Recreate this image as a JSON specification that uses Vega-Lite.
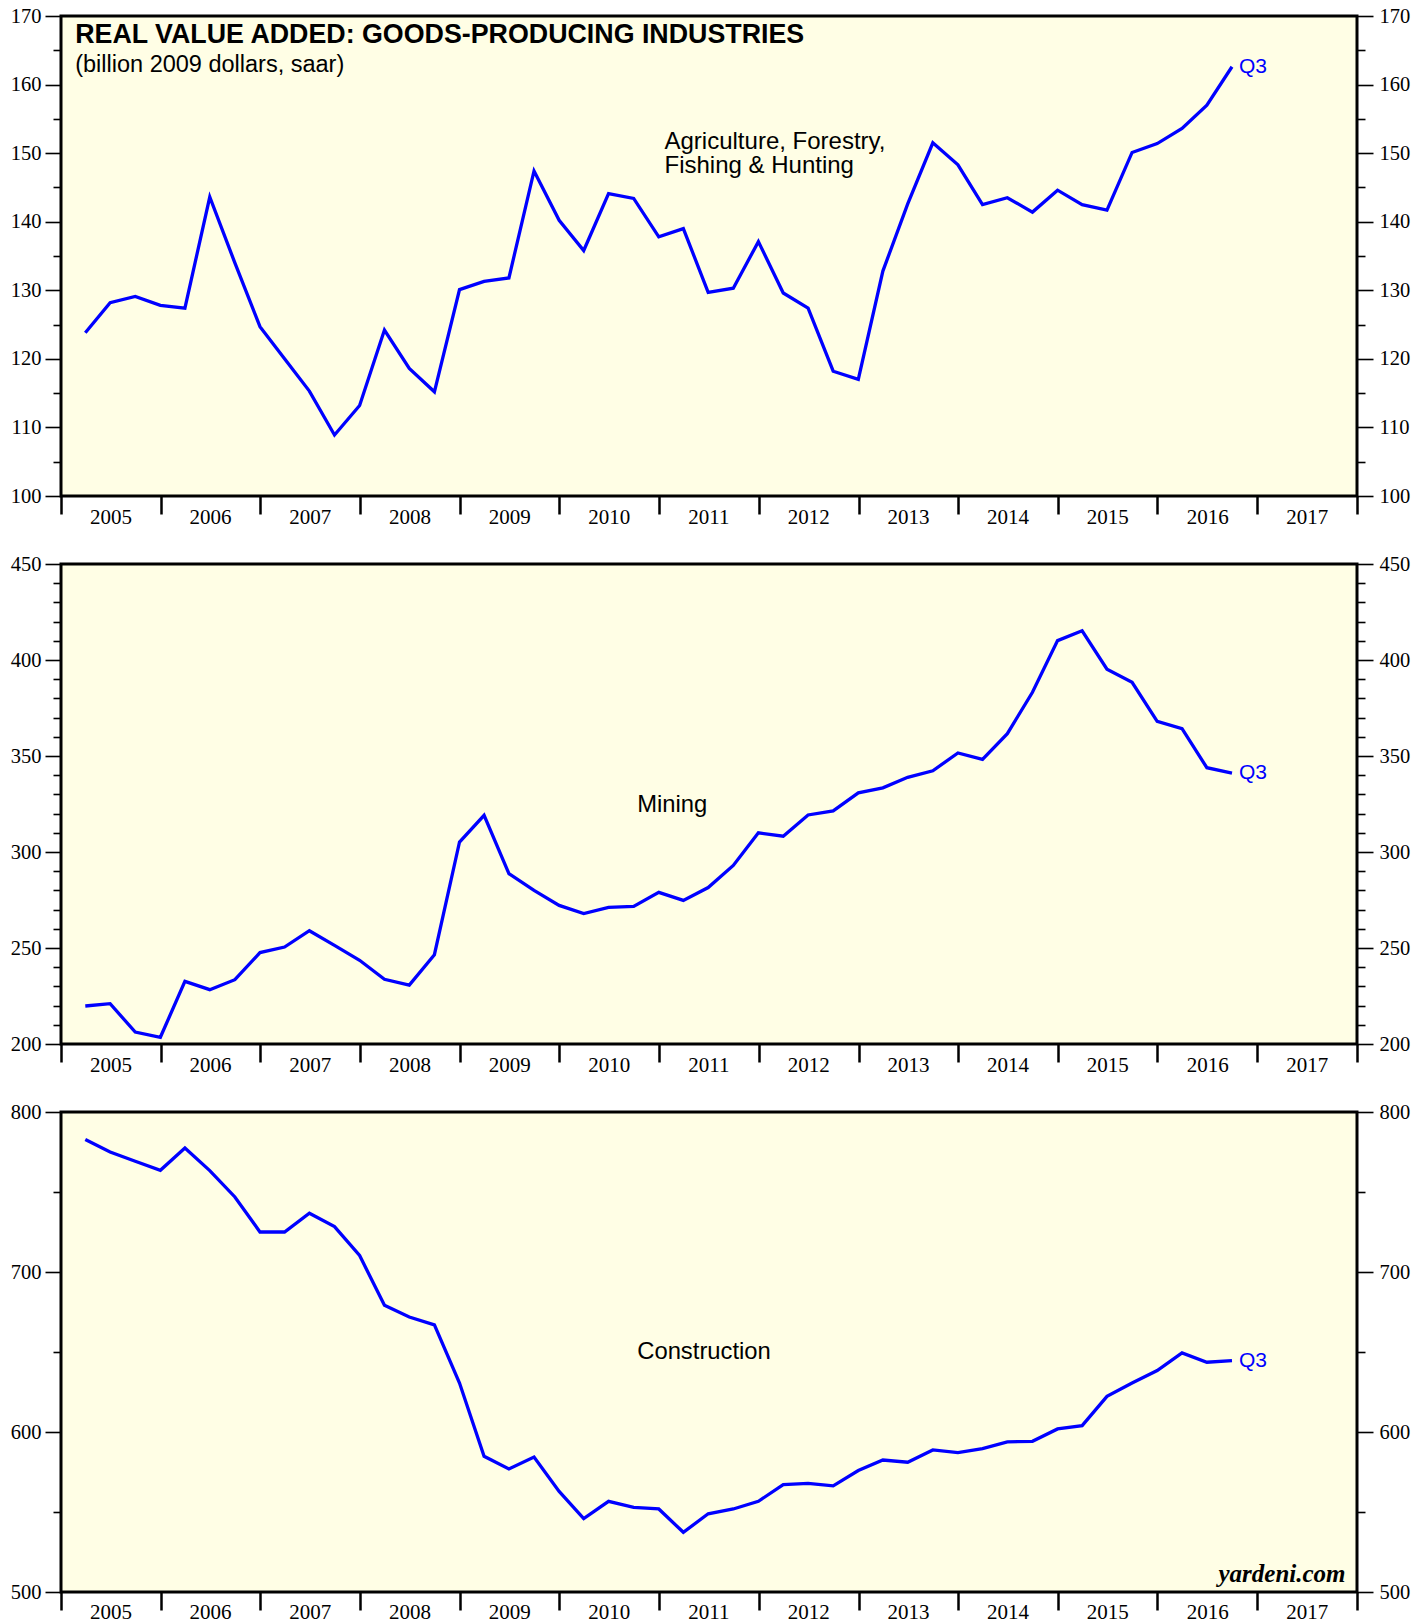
{
  "$schema": "https://vega.github.io/schema/vega-lite/v6.json",
  "background": "white",
  "padding": {"left": 8, "top": 4, "right": 0, "bottom": 0},
  "bounds": "flush",
  "spacing": 68,
  "config": {
    "view": {"stroke": "black", "strokeWidth": 3, "fill": "#fffee5"},
    "axis": {"labelFont": "Liberation Serif", "labelFontSize": 21, "labelColor": "black", "tickColor": "black", "domain": false, "grid": false, "labelOverlap": false, "labelFlush": false, "labelBound": false},
    "text": {"font": "Liberation Sans", "color": "black"}
  },
  "datasets": {
    "gva": [
      {"date": "2005-03-31", "agriculture": 123.8, "mining": 219.8, "construction": 782.8},
      {"date": "2005-06-30", "agriculture": 128.2, "mining": 221.0, "construction": 775.0},
      {"date": "2005-09-30", "agriculture": 129.1, "mining": 206.2, "construction": 769.2},
      {"date": "2005-12-31", "agriculture": 127.8, "mining": 203.5, "construction": 763.6},
      {"date": "2006-03-31", "agriculture": 127.4, "mining": 232.6, "construction": 777.5},
      {"date": "2006-06-30", "agriculture": 143.6, "mining": 228.3, "construction": 763.4},
      {"date": "2006-09-30", "agriculture": 134.0, "mining": 233.5, "construction": 746.9},
      {"date": "2006-12-31", "agriculture": 124.7, "mining": 247.6, "construction": 725.0},
      {"date": "2007-03-31", "agriculture": 120.0, "mining": 250.5, "construction": 725.0},
      {"date": "2007-06-30", "agriculture": 115.3, "mining": 259.0, "construction": 736.7},
      {"date": "2007-09-30", "agriculture": 108.9, "mining": 251.4, "construction": 728.4},
      {"date": "2007-12-31", "agriculture": 113.2, "mining": 243.6, "construction": 710.3},
      {"date": "2008-03-31", "agriculture": 124.2, "mining": 233.7, "construction": 679.2},
      {"date": "2008-06-30", "agriculture": 118.6, "mining": 230.7, "construction": 671.9},
      {"date": "2008-09-30", "agriculture": 115.2, "mining": 246.5, "construction": 666.9},
      {"date": "2008-12-31", "agriculture": 130.1, "mining": 305.2, "construction": 630.6},
      {"date": "2009-03-31", "agriculture": 131.3, "mining": 319.1, "construction": 584.8},
      {"date": "2009-06-30", "agriculture": 131.8, "mining": 288.7, "construction": 576.9},
      {"date": "2009-09-30", "agriculture": 147.4, "mining": 280.0, "construction": 584.4},
      {"date": "2009-12-31", "agriculture": 140.2, "mining": 272.2, "construction": 562.9},
      {"date": "2010-03-31", "agriculture": 135.8, "mining": 267.9, "construction": 545.9},
      {"date": "2010-06-30", "agriculture": 144.1, "mining": 271.2, "construction": 556.7},
      {"date": "2010-09-30", "agriculture": 143.4, "mining": 271.7, "construction": 552.9},
      {"date": "2010-12-31", "agriculture": 137.8, "mining": 279.0, "construction": 551.9},
      {"date": "2011-03-31", "agriculture": 139.0, "mining": 274.8, "construction": 537.3},
      {"date": "2011-06-30", "agriculture": 129.7, "mining": 281.5, "construction": 548.9},
      {"date": "2011-09-30", "agriculture": 130.3, "mining": 293.0, "construction": 551.9},
      {"date": "2011-12-31", "agriculture": 137.1, "mining": 310.0, "construction": 556.7},
      {"date": "2012-03-31", "agriculture": 129.6, "mining": 308.2, "construction": 567.1},
      {"date": "2012-06-30", "agriculture": 127.4, "mining": 319.3, "construction": 567.9},
      {"date": "2012-09-30", "agriculture": 118.2, "mining": 321.4, "construction": 566.3},
      {"date": "2012-12-31", "agriculture": 117.0, "mining": 330.8, "construction": 575.9},
      {"date": "2013-03-31", "agriculture": 132.8, "mining": 333.4, "construction": 582.5},
      {"date": "2013-06-30", "agriculture": 142.6, "mining": 338.9, "construction": 581.1},
      {"date": "2013-09-30", "agriculture": 151.5, "mining": 342.3, "construction": 588.8},
      {"date": "2013-12-31", "agriculture": 148.3, "mining": 351.6, "construction": 587.1},
      {"date": "2014-03-31", "agriculture": 142.5, "mining": 348.2, "construction": 589.6},
      {"date": "2014-06-30", "agriculture": 143.5, "mining": 361.6, "construction": 593.8},
      {"date": "2014-09-30", "agriculture": 141.4, "mining": 383.2, "construction": 594.2},
      {"date": "2014-12-31", "agriculture": 144.6, "mining": 410.1, "construction": 601.9},
      {"date": "2015-03-31", "agriculture": 142.5, "mining": 415.2, "construction": 604.0},
      {"date": "2015-06-30", "agriculture": 141.7, "mining": 395.2, "construction": 622.3},
      {"date": "2015-09-30", "agriculture": 150.1, "mining": 388.4, "construction": 630.6},
      {"date": "2015-12-31", "agriculture": 151.4, "mining": 368.0, "construction": 638.4},
      {"date": "2016-03-31", "agriculture": 153.6, "mining": 364.2, "construction": 649.4},
      {"date": "2016-06-30", "agriculture": 157.0, "mining": 343.9, "construction": 643.6},
      {"date": "2016-09-30", "agriculture": 162.6, "mining": 341.1, "construction": 644.6, "note": "Q3"}
    ]
  },
  "vconcat": [
    {
      "width": 1296, "height": 480,
      "data": {"name": "gva"},
      "resolve": {"axis": {"x": "independent", "y": "independent"}},
      "layer": [
        {
          "mark": {"type": "line", "color": "#0000ff", "strokeWidth": 3.3},
          "encoding": {
            "x": {"field": "date", "type": "temporal",
              "scale": {"type": "utc", "domain": [{"year": 2005, "month": 1, "date": 1, "utc": true}, {"year": 2018, "month": 1, "date": 1, "utc": true}]},
              "axis": {"title": null, "orient": "bottom",
                "values": [{"year": 2005, "month": 1, "date": 1, "utc": true}, {"year": 2006, "month": 1, "date": 1, "utc": true}, {"year": 2007, "month": 1, "date": 1, "utc": true}, {"year": 2008, "month": 1, "date": 1, "utc": true}, {"year": 2009, "month": 1, "date": 1, "utc": true}, {"year": 2010, "month": 1, "date": 1, "utc": true}, {"year": 2011, "month": 1, "date": 1, "utc": true}, {"year": 2012, "month": 1, "date": 1, "utc": true}, {"year": 2013, "month": 1, "date": 1, "utc": true}, {"year": 2014, "month": 1, "date": 1, "utc": true}, {"year": 2015, "month": 1, "date": 1, "utc": true}, {"year": 2016, "month": 1, "date": 1, "utc": true}, {"year": 2017, "month": 1, "date": 1, "utc": true}, {"year": 2018, "month": 1, "date": 1, "utc": true},
                  {"year": 2005, "month": 7, "date": 1, "utc": true}, {"year": 2006, "month": 7, "date": 1, "utc": true}, {"year": 2007, "month": 7, "date": 1, "utc": true}, {"year": 2008, "month": 7, "date": 1, "utc": true}, {"year": 2009, "month": 7, "date": 1, "utc": true}, {"year": 2010, "month": 7, "date": 1, "utc": true}, {"year": 2011, "month": 7, "date": 1, "utc": true}, {"year": 2012, "month": 7, "date": 1, "utc": true}, {"year": 2013, "month": 7, "date": 1, "utc": true}, {"year": 2014, "month": 7, "date": 1, "utc": true}, {"year": 2015, "month": 7, "date": 1, "utc": true}, {"year": 2016, "month": 7, "date": 1, "utc": true}, {"year": 2017, "month": 7, "date": 1, "utc": true}],
                "tickSize": {"condition": {"test": "utcmonth(datum.value) == 6", "value": 0}, "value": 18},
                "tickWidth": 2.5,
                "labelExpr": "utcmonth(datum.value) == 6 ? utcFormat(datum.value, '%Y') : ''",
                "labelBaseline": "middle", "labelPadding": 21, "labelFontSize": 21}},
            "y": {"field": "agriculture", "type": "quantitative",
              "scale": {"domain": [100, 170], "nice": false, "zero": false},
              "axis": {"title": null, "orient": "left", "values": [100, 105, 110, 115, 120, 125, 130, 135, 140, 145, 150, 155, 160, 165, 170],
                "tickSize": {"condition": {"test": "datum.value % 10 == 0", "value": 16}, "value": 8},
                "tickWidth": 1.6, "labelPadding": 4, "labelFontSize": 20.5,
                "labelExpr": "datum.value % 10 == 0 ? datum.label : ''"}}
          }
        },
        {
          "transform": [{"filter": {"field": "note", "equal": "Q3"}}],
          "mark": {"type": "text", "align": "left", "baseline": "middle", "dx": 7, "fontSize": 21, "color": "#0000ff"},
          "encoding": {
            "x": {"field": "date", "type": "temporal", "axis": null},
            "y": {"field": "agriculture", "type": "quantitative",
              "axis": {"title": null, "orient": "right", "values": [100, 105, 110, 115, 120, 125, 130, 135, 140, 145, 150, 155, 160, 165, 170],
                "tickSize": {"condition": {"test": "datum.value % 10 == 0", "value": 16}, "value": 8},
                "tickWidth": 1.6, "labelPadding": 6, "labelFontSize": 20.5,
                "labelExpr": "datum.value % 10 == 0 ? datum.label : ''"}},
            "text": {"field": "note"}
          }
        },
        {
          "data": {"values": [{}]},
          "mark": {"type": "text", "align": "left", "baseline": "alphabetic", "fontSize": 26.8, "fontWeight": "bold"},
          "encoding": {
            "x": {"datum": {"year": 2005, "month": 2, "date": 22, "utc": true}, "type": "temporal", "axis": null},
            "y": {"datum": 166.0, "type": "quantitative", "axis": null},
            "text": {"value": "REAL VALUE ADDED: GOODS-PRODUCING INDUSTRIES"}
          }
        },
        {
          "data": {"values": [{}]},
          "mark": {"type": "text", "align": "left", "baseline": "alphabetic", "fontSize": 23.5},
          "encoding": {
            "x": {"datum": {"year": 2005, "month": 2, "date": 22, "utc": true}, "type": "temporal", "axis": null},
            "y": {"datum": 161.9, "type": "quantitative", "axis": null},
            "text": {"value": "(billion 2009 dollars, saar)"}
          }
        },
        {
          "data": {"values": [{}]},
          "mark": {"type": "text", "align": "left", "baseline": "alphabetic", "fontSize": 24, "lineHeight": 24.4},
          "encoding": {
            "x": {"datum": {"year": 2011, "month": 1, "date": 21, "utc": true}, "type": "temporal", "axis": null},
            "y": {"datum": 150.6, "type": "quantitative", "axis": null},
            "text": {"value": ["Agriculture, Forestry,", "Fishing & Hunting"]}
          }
        }
      ]
    },
    {
      "width": 1296, "height": 480,
      "data": {"name": "gva"},
      "resolve": {"axis": {"x": "independent", "y": "independent"}},
      "layer": [
        {
          "mark": {"type": "line", "color": "#0000ff", "strokeWidth": 3.3},
          "encoding": {
            "x": {"field": "date", "type": "temporal",
              "scale": {"type": "utc", "domain": [{"year": 2005, "month": 1, "date": 1, "utc": true}, {"year": 2018, "month": 1, "date": 1, "utc": true}]},
              "axis": {"title": null, "orient": "bottom",
                "values": [{"year": 2005, "month": 1, "date": 1, "utc": true}, {"year": 2006, "month": 1, "date": 1, "utc": true}, {"year": 2007, "month": 1, "date": 1, "utc": true}, {"year": 2008, "month": 1, "date": 1, "utc": true}, {"year": 2009, "month": 1, "date": 1, "utc": true}, {"year": 2010, "month": 1, "date": 1, "utc": true}, {"year": 2011, "month": 1, "date": 1, "utc": true}, {"year": 2012, "month": 1, "date": 1, "utc": true}, {"year": 2013, "month": 1, "date": 1, "utc": true}, {"year": 2014, "month": 1, "date": 1, "utc": true}, {"year": 2015, "month": 1, "date": 1, "utc": true}, {"year": 2016, "month": 1, "date": 1, "utc": true}, {"year": 2017, "month": 1, "date": 1, "utc": true}, {"year": 2018, "month": 1, "date": 1, "utc": true},
                  {"year": 2005, "month": 7, "date": 1, "utc": true}, {"year": 2006, "month": 7, "date": 1, "utc": true}, {"year": 2007, "month": 7, "date": 1, "utc": true}, {"year": 2008, "month": 7, "date": 1, "utc": true}, {"year": 2009, "month": 7, "date": 1, "utc": true}, {"year": 2010, "month": 7, "date": 1, "utc": true}, {"year": 2011, "month": 7, "date": 1, "utc": true}, {"year": 2012, "month": 7, "date": 1, "utc": true}, {"year": 2013, "month": 7, "date": 1, "utc": true}, {"year": 2014, "month": 7, "date": 1, "utc": true}, {"year": 2015, "month": 7, "date": 1, "utc": true}, {"year": 2016, "month": 7, "date": 1, "utc": true}, {"year": 2017, "month": 7, "date": 1, "utc": true}],
                "tickSize": {"condition": {"test": "utcmonth(datum.value) == 6", "value": 0}, "value": 18},
                "tickWidth": 2.5,
                "labelExpr": "utcmonth(datum.value) == 6 ? utcFormat(datum.value, '%Y') : ''",
                "labelBaseline": "middle", "labelPadding": 21, "labelFontSize": 21}},
            "y": {"field": "mining", "type": "quantitative",
              "scale": {"domain": [200, 450], "nice": false, "zero": false},
              "axis": {"title": null, "orient": "left", "values": [200, 210, 220, 230, 240, 250, 260, 270, 280, 290, 300, 310, 320, 330, 340, 350, 360, 370, 380, 390, 400, 410, 420, 430, 440, 450],
                "tickSize": {"condition": {"test": "datum.value % 50 == 0", "value": 16}, "value": 8},
                "tickWidth": 1.6, "labelPadding": 4, "labelFontSize": 20.5,
                "labelExpr": "datum.value % 50 == 0 ? datum.label : ''"}}
          }
        },
        {
          "transform": [{"filter": {"field": "note", "equal": "Q3"}}],
          "mark": {"type": "text", "align": "left", "baseline": "middle", "dx": 7, "fontSize": 21, "color": "#0000ff"},
          "encoding": {
            "x": {"field": "date", "type": "temporal", "axis": null},
            "y": {"field": "mining", "type": "quantitative",
              "axis": {"title": null, "orient": "right", "values": [200, 210, 220, 230, 240, 250, 260, 270, 280, 290, 300, 310, 320, 330, 340, 350, 360, 370, 380, 390, 400, 410, 420, 430, 440, 450],
                "tickSize": {"condition": {"test": "datum.value % 50 == 0", "value": 16}, "value": 8},
                "tickWidth": 1.6, "labelPadding": 6, "labelFontSize": 20.5,
                "labelExpr": "datum.value % 50 == 0 ? datum.label : ''"}},
            "text": {"field": "note"}
          }
        },
        {
          "data": {"values": [{}]},
          "mark": {"type": "text", "align": "left", "baseline": "alphabetic", "fontSize": 23.8},
          "encoding": {
            "x": {"datum": {"year": 2010, "month": 10, "date": 13, "utc": true}, "type": "temporal", "axis": null},
            "y": {"datum": 320.6, "type": "quantitative", "axis": null},
            "text": {"value": "Mining"}
          }
        }
      ]
    },
    {
      "width": 1296, "height": 480,
      "data": {"name": "gva"},
      "resolve": {"axis": {"x": "independent", "y": "independent"}},
      "layer": [
        {
          "mark": {"type": "line", "color": "#0000ff", "strokeWidth": 3.3},
          "encoding": {
            "x": {"field": "date", "type": "temporal",
              "scale": {"type": "utc", "domain": [{"year": 2005, "month": 1, "date": 1, "utc": true}, {"year": 2018, "month": 1, "date": 1, "utc": true}]},
              "axis": {"title": null, "orient": "bottom",
                "values": [{"year": 2005, "month": 1, "date": 1, "utc": true}, {"year": 2006, "month": 1, "date": 1, "utc": true}, {"year": 2007, "month": 1, "date": 1, "utc": true}, {"year": 2008, "month": 1, "date": 1, "utc": true}, {"year": 2009, "month": 1, "date": 1, "utc": true}, {"year": 2010, "month": 1, "date": 1, "utc": true}, {"year": 2011, "month": 1, "date": 1, "utc": true}, {"year": 2012, "month": 1, "date": 1, "utc": true}, {"year": 2013, "month": 1, "date": 1, "utc": true}, {"year": 2014, "month": 1, "date": 1, "utc": true}, {"year": 2015, "month": 1, "date": 1, "utc": true}, {"year": 2016, "month": 1, "date": 1, "utc": true}, {"year": 2017, "month": 1, "date": 1, "utc": true}, {"year": 2018, "month": 1, "date": 1, "utc": true},
                  {"year": 2005, "month": 7, "date": 1, "utc": true}, {"year": 2006, "month": 7, "date": 1, "utc": true}, {"year": 2007, "month": 7, "date": 1, "utc": true}, {"year": 2008, "month": 7, "date": 1, "utc": true}, {"year": 2009, "month": 7, "date": 1, "utc": true}, {"year": 2010, "month": 7, "date": 1, "utc": true}, {"year": 2011, "month": 7, "date": 1, "utc": true}, {"year": 2012, "month": 7, "date": 1, "utc": true}, {"year": 2013, "month": 7, "date": 1, "utc": true}, {"year": 2014, "month": 7, "date": 1, "utc": true}, {"year": 2015, "month": 7, "date": 1, "utc": true}, {"year": 2016, "month": 7, "date": 1, "utc": true}, {"year": 2017, "month": 7, "date": 1, "utc": true}],
                "tickSize": {"condition": {"test": "utcmonth(datum.value) == 6", "value": 0}, "value": 18},
                "tickWidth": 2.5,
                "labelExpr": "utcmonth(datum.value) == 6 ? utcFormat(datum.value, '%Y') : ''",
                "labelBaseline": "middle", "labelPadding": 20, "labelFontSize": 21}},
            "y": {"field": "construction", "type": "quantitative",
              "scale": {"domain": [500, 800], "nice": false, "zero": false},
              "axis": {"title": null, "orient": "left", "values": [500, 550, 600, 650, 700, 750, 800],
                "tickSize": {"condition": {"test": "datum.value % 100 == 0", "value": 16}, "value": 8},
                "tickWidth": 1.6, "labelPadding": 4, "labelFontSize": 20.5,
                "labelExpr": "datum.value % 100 == 0 ? datum.label : ''"}}
          }
        },
        {
          "transform": [{"filter": {"field": "note", "equal": "Q3"}}],
          "mark": {"type": "text", "align": "left", "baseline": "middle", "dx": 7, "fontSize": 21, "color": "#0000ff"},
          "encoding": {
            "x": {"field": "date", "type": "temporal", "axis": null},
            "y": {"field": "construction", "type": "quantitative",
              "axis": {"title": null, "orient": "right", "values": [500, 550, 600, 650, 700, 750, 800],
                "tickSize": {"condition": {"test": "datum.value % 100 == 0", "value": 16}, "value": 8},
                "tickWidth": 1.6, "labelPadding": 6, "labelFontSize": 20.5,
                "labelExpr": "datum.value % 100 == 0 ? datum.label : ''"}},
            "text": {"field": "note"}
          }
        },
        {
          "data": {"values": [{}]},
          "mark": {"type": "text", "align": "left", "baseline": "alphabetic", "fontSize": 23.8},
          "encoding": {
            "x": {"datum": {"year": 2010, "month": 10, "date": 13, "utc": true}, "type": "temporal", "axis": null},
            "y": {"datum": 645.9, "type": "quantitative", "axis": null},
            "text": {"value": "Construction"}
          }
        },
        {
          "data": {"values": [{}]},
          "mark": {"type": "text", "align": "right", "baseline": "alphabetic", "fontSize": 25, "font": "Liberation Serif", "fontStyle": "italic", "fontWeight": "bold"},
          "encoding": {
            "x": {"datum": {"year": 2017, "month": 11, "date": 20, "utc": true}, "type": "temporal", "axis": null},
            "y": {"datum": 506.0, "type": "quantitative", "axis": null},
            "text": {"value": "yardeni.com"}
          }
        }
      ]
    }
  ]
}
